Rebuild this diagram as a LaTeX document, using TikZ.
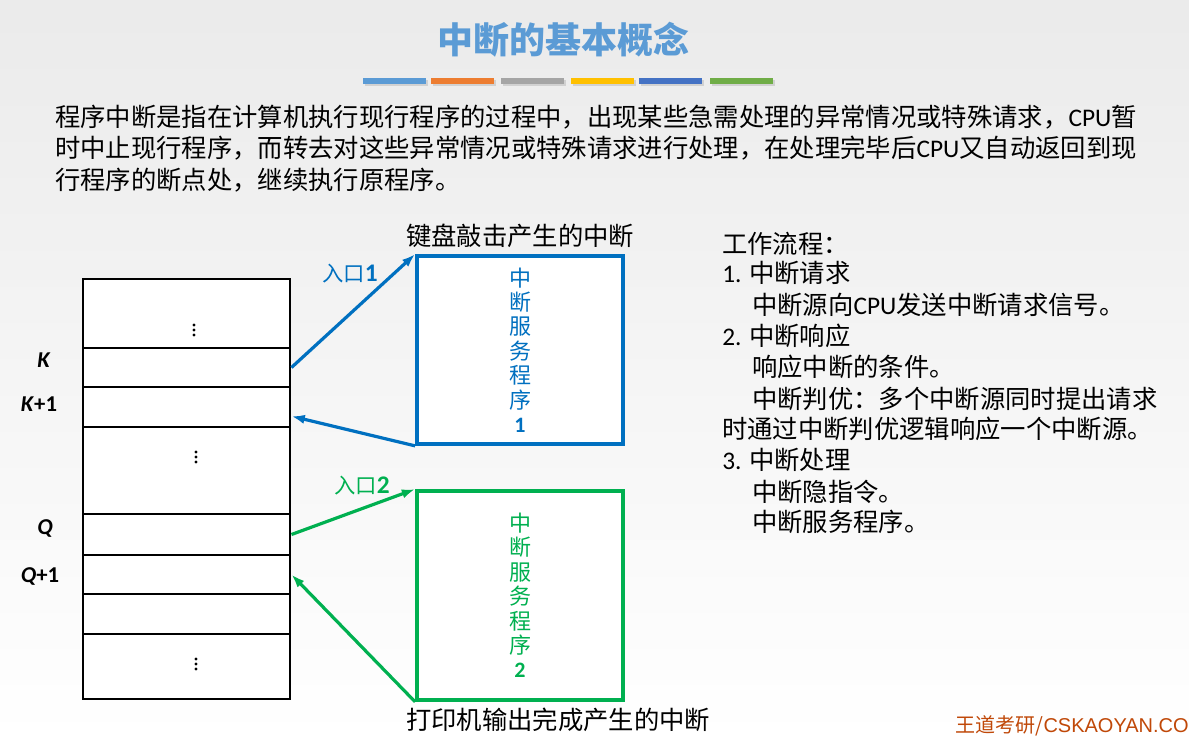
\documentclass[tikz,border=0pt]{standalone}
\usepackage{fontspec}
\setmainfont{Noto Sans CJK SC}
\newfontfamily\calibri{Carlito}
\newfontfamily\arialfont{Liberation Sans}
\usepackage{tikz}
\usetikzlibrary{arrows.meta,positioning}

\definecolor{titleblue}{RGB}{91,155,213}
\definecolor{boxblue}{RGB}{0,112,192}
\definecolor{boxgreen}{RGB}{0,176,80}
\definecolor{barorange}{RGB}{237,125,49}
\definecolor{bargray}{RGB}{165,165,165}
\definecolor{baryellow}{RGB}{255,192,0}
\definecolor{bardarkblue}{RGB}{68,114,196}
\definecolor{bargreen}{RGB}{112,173,71}
\definecolor{brandred}{RGB}{192,72,8}

\begin{document}
\begin{tikzpicture}[
    x=0.75pt, y=-0.75pt,
    body/.style={anchor=west, inner sep=0pt, font=\fontsize{19}{22}\selectfont},
    caption/.style={inner sep=0pt, font=\fontsize{19}{22}\selectfont},
    memcell/.style={rectangle, draw=black, line width=2.2pt, fill=white,
                    minimum width=155.25pt, minimum height=#1*0.75pt, inner sep=0pt},
    addr/.style={inner sep=0pt, font=\calibri\bfseries\fontsize{17}{19}\selectfont},
    service/.style={rectangle, line width=2.8pt, fill=white, align=center,
                    minimum width=154.5pt, minimum height=#1*0.75pt, inner sep=0pt,
                    font=\fontsize{16.5}{18.3}\selectfont},
    entry/.style={inner sep=0pt, font=\fontsize{16}{18}\selectfont},
    arrow/.style={-{Latex[length=10pt, width=7pt]}, line width=2.4pt}
]

% ================= BACKGROUND =================
\useasboundingbox (0,0) rectangle (1189,739);
\shade[top color=black!8, bottom color=white] (0,0) rectangle (1189,739);

% ================= TITLE =================
\node[font=\bfseries\fontsize{27}{30}\selectfont, text=titleblue] (Title) at (563,40) {中断的基本概念};

% colour bars under the title
\fill[black!18] (365,80) rectangle (428,86);
\fill[titleblue] (363,78) rectangle (426,84);
\fill[black!18] (433,80) rectangle (496,86);
\fill[barorange] (431,78) rectangle (494,84);
\fill[black!18] (503,80) rectangle (566,86);
\fill[bargray] (501,78) rectangle (564,84);
\fill[black!18] (573,80) rectangle (636,86);
\fill[baryellow] (571,78) rectangle (634,84);
\fill[black!18] (641,80) rectangle (704,86);
\fill[bardarkblue] (639,78) rectangle (702,84);
\fill[black!18] (712,80) rectangle (775,86);
\fill[bargreen] (710,78) rectangle (773,84);

% ================= DEFINITION =================
\node[body] (Def1) at (55,117) {程序中断是指在计算机执行现行程序的过程中，出现某些急需处理的异常情况或特殊请求，{\calibri CPU}暂};
\node[body] (Def2) at (55,148) {时中止现行程序，而转去对这些异常情况或特殊请求进行处理，在处理完毕后{\calibri CPU}又自动返回到现};
\node[body] (Def3) at (55,180) {行程序的断点处，继续执行原程序。};

% ================= MEMORY STACK =================
\node[memcell=69] (Top)  at (186.5,313.5) {};
\node[memcell=39] (K)    at (186.5,367.5) {};
\node[memcell=40] (K1)   at (186.5,407) {};
\node[memcell=87] (Mid)  at (186.5,470.5) {};
\node[memcell=41] (Q)    at (186.5,534.5) {};
\node[memcell=39] (Q1)   at (186.5,574.5) {};
\node[memcell=40] (Low)  at (186.5,614) {};
\node[memcell=65] (Bot)  at (186.5,666.5) {};

% vertical dots
\foreach \y in {325,330,335} \fill (194,\y) circle (1.6);
\foreach \y in {452,457,462} \fill (196,\y) circle (1.6);
\foreach \y in {659,664,669} \fill (196,\y) circle (1.6);

\node[addr] (LabK)  at (44,360) {\textit{K}};
\node[addr] (LabK1) at (39,404) {\textit{K}+1};
\node[addr] (LabQ)  at (45,528) {\textit{Q}};
\node[addr] (LabQ1) at (40,576) {\textit{Q}+1};

% ================= SERVICE ROUTINES =================
\node[service=188, draw=boxblue, text=boxblue] (Svc1) at (520,350)
    {中\\断\\服\\务\\程\\序\\{\calibri\bfseries 1}};
\node[service=209, draw=boxgreen, text=boxgreen] (Svc2) at (520,595.5)
    {中\\断\\服\\务\\程\\序\\{\calibri\bfseries 2}};

\node[caption] (Key) at (520,236) {键盘敲击产生的中断};
\node[caption] (Prn) at (558,720) {打印机输出完成产生的中断};

% ================= ARROWS =================
\draw[arrow, boxblue] (K.east) -- (Svc1.north west);
\draw[arrow, boxblue] (Svc1.south west) -- (K1.-5);
\draw[arrow, boxgreen] (Q.east) -- (Svc2.north west);
\draw[arrow, boxgreen] (Svc2.south west) -- (Q1.east);

\node[entry, text=boxblue] (Entry1) at (350,274) {入口{\calibri\bfseries\fontsize{19}{19}\selectfont 1}};
\node[entry, text=boxgreen] (Entry2) at (362,486) {入口{\calibri\bfseries\fontsize{19}{19}\selectfont 2}};

% ================= WORKFLOW =================
\node[body] (Flow)  at (722,244) {工作流程：};
\node[body] (Step1) at (722,273) {{\calibri 1.} 中断请求};
\node[body] (Req)   at (752,305) {中断源向{\calibri CPU}发送中断请求信号。};
\node[body] (Step2) at (722,336) {{\calibri 2.} 中断响应};
\node[body] (Cond)  at (752,367) {响应中断的条件。};
\node[body] (Prio)  at (752,399) {中断判优：多个中断源同时提出请求};
\node[body] (Prio2) at (722,429) {时通过中断判优逻辑响应一个中断源。};
\node[body] (Step3) at (722,460) {{\calibri 3.} 中断处理};
\node[body] (Hid)   at (752,492) {中断隐指令。};
\node[body] (Serv)  at (752,522) {中断服务程序。};

% ================= FOOTER =================
\node[anchor=east, inner sep=0pt, text=brandred, font=\fontsize{15}{17}\selectfont] (Brand) at (1189,726)
    {王道考研/{\arialfont CSKAOYAN.CO}};

\end{tikzpicture}
\end{document}
